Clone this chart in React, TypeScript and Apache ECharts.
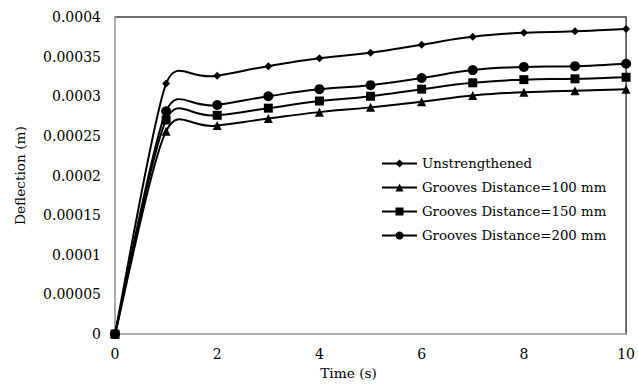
import React, { useEffect, useRef } from "react";
import * as echarts from "echarts";

const times = [0, 1, 2, 3, 4, 5, 6, 7, 8, 9, 10];
const unstrengthened = [0, 0.000316, 0.000326, 0.000338, 0.000348, 0.000355, 0.000365, 0.000375, 0.00038, 0.000382, 0.000385];
const grooves100 = [0, 0.000256, 0.000263, 0.000272, 0.00028, 0.000286, 0.000293, 0.000301, 0.000305, 0.000307, 0.000309];
const grooves150 = [0, 0.00027, 0.000276, 0.000285, 0.000294, 0.0003, 0.000309, 0.000317, 0.000321, 0.000322, 0.000324];
const grooves200 = [0, 0.000281, 0.000289, 0.0003, 0.000309, 0.000314, 0.000323, 0.000333, 0.000337, 0.000338, 0.000341];
const seriesNames = [
  "Unstrengthened",
  "Grooves Distance=100 mm",
  "Grooves Distance=150 mm",
  "Grooves Distance=200 mm",
];

const FONT = "DejaVu Serif";
const ARM = 0.55;
const CAP = 34;

function smoothPath(pts: number[][]): string {
  const n = pts.length;
  const before: number[][] = [];
  const after: number[][] = [];
  for (let i = 0; i < n; i++) {
    const p = pts[i];
    const prev = pts[Math.max(0, i - 1)];
    const next = pts[Math.min(n - 1, i + 1)];
    const vx = next[0] - prev[0];
    const vy = next[1] - prev[1];
    const lv = Math.hypot(vx, vy) || 1;
    const ux = vx / lv;
    const uy = vy / lv;
    const lp = Math.hypot(p[0] - prev[0], p[1] - prev[1]);
    const ln = Math.hypot(next[0] - p[0], next[1] - p[1]);
    const aa = Math.min(ARM * ln, CAP);
    const ab = Math.min(ARM * lp, CAP);
    after.push([p[0] + ux * aa, p[1] + uy * aa]);
    before.push([p[0] - ux * ab, p[1] - uy * ab]);
  }
  let d = `M${pts[0][0]},${pts[0][1]}`;
  for (let i = 0; i < n - 1; i++) {
    const a = after[i];
    const b = before[i + 1];
    const q = pts[i + 1];
    d += ` C${a[0]},${a[1]} ${b[0]},${b[1]} ${q[0]},${q[1]}`;
  }
  return d;
}

export default function App() {
  const ref = useRef<HTMLDivElement>(null);
  useEffect(() => {
    if (!ref.current) return;
    const chart = echarts.init(ref.current, null, { renderer: "svg" });
    const marks = (name: string, vals: number[], symbol: string, size: number) => ({
      name,
      type: "line",
      z: 4,
      data: times.map((t, i) => [t, vals[i]]),
      symbol,
      symbolSize: size,
      lineStyle: { color: "#000", width: 2, opacity: 0 },
      itemStyle: { color: "#000" },
    });
    const curve = (name: string, vals: number[]) => ({
      name: name + " (curve)",
      type: "custom",
      z: 3,
      data: times.map((t, i) => [t, vals[i]]),
      encode: { x: 0, y: 1 },
      renderItem: (params: any, api: any) => {
        if (params.dataIndex !== 0) return { type: "group", children: [] };
        const pts = times.map((t, i) => api.coord([t, vals[i]]));
        return {
          type: "path",
          shape: { pathData: smoothPath(pts) },
          style: { fill: "none", stroke: "#000", lineWidth: 2 },
        };
      },
    });
    chart.setOption({
      animation: false,
      textStyle: { fontFamily: FONT },
      grid: {
        left: 115,
        right: 8,
        top: 17,
        bottom: 48,
        show: true,
        borderColor: "#404040",
        borderWidth: 1.5,
        backgroundColor: "transparent",
      },
      legend: {
        orient: "vertical",
        left: 376,
        top: 152,
        itemGap: 11,
        itemWidth: 35,
        itemHeight: 10,
        lineStyle: { color: "#000", width: 2, opacity: 1 },
        textStyle: { fontFamily: FONT, fontSize: 13.3, color: "#000" },
        data: seriesNames,
      },
      xAxis: {
        type: "value",
        min: 0,
        max: 10,
        interval: 2,
        name: "Time (s)",
        nameLocation: "middle",
        nameGap: 30,
        nameTextStyle: { fontFamily: FONT, fontSize: 13.7, color: "#000", padding: [0, 44, 0, 0] },
        axisLine: { show: true, lineStyle: { color: "#bfbfbf", width: 1.5 } },
        axisTick: { show: false },
        splitLine: { show: false },
        axisLabel: { fontFamily: FONT, fontSize: 14, color: "#000", margin: 13 },
      },
      yAxis: {
        type: "value",
        min: 0,
        max: 0.0004,
        interval: 0.00005,
        name: "Deflection (m)",
        nameLocation: "middle",
        nameGap: 88,
        nameRotate: 90,
        nameTextStyle: { fontFamily: FONT, fontSize: 13.7, color: "#000" },
        axisLine: { show: true, lineStyle: { color: "#bfbfbf", width: 1.5 } },
        axisTick: { show: false },
        splitLine: { show: false },
        axisLabel: {
          fontFamily: FONT,
          fontSize: 14,
          color: "#000",
          margin: 14,
          formatter: (v: number) => String(parseFloat(v.toPrecision(6))),
        },
      },
      series: [
        curve(seriesNames[0], unstrengthened),
        curve(seriesNames[1], grooves100),
        curve(seriesNames[2], grooves150),
        curve(seriesNames[3], grooves200),
        marks(seriesNames[0], unstrengthened, "diamond", 8),
        marks(seriesNames[1], grooves100, "triangle", 9),
        marks(seriesNames[2], grooves150, "rect", 9),
        marks(seriesNames[3], grooves200, "circle", 10),
      ],
    });
    return () => chart.dispose();
  }, []);
  return <div ref={ref} style={{ width: 638, height: 385, position: "absolute", left: 0, top: 0 }} />;
}
